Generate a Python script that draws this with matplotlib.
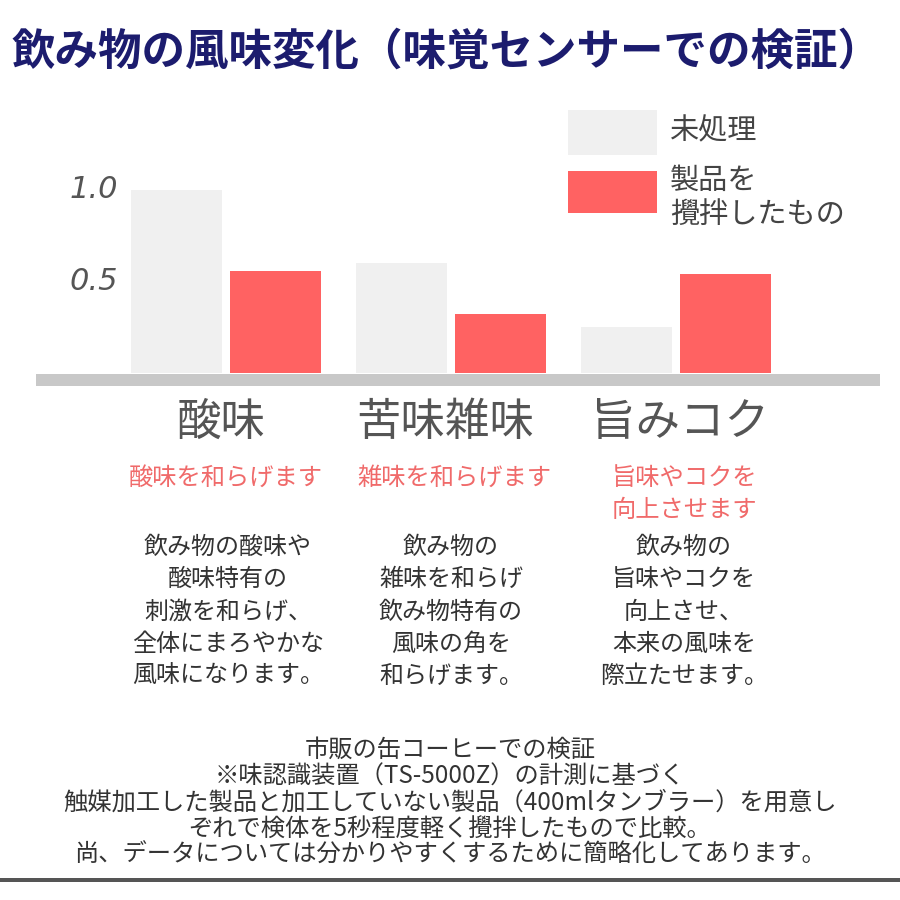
import matplotlib
matplotlib.use("Agg")
import matplotlib.pyplot as plt
from matplotlib.patches import Rectangle
import numpy as np

plt.rcParams['font.family'] = ['Noto Sans CJK JP', 'DejaVu Sans']

# データ
categories = ['酸味', '苦味雑味', '旨みコク']
untreated = [1.0, 0.60, 0.25]
stirred = [0.56, 0.32, 0.54]
series_names = ['未処理', '製品を\n攪拌したもの']
ytick_vals = [1.0, 0.5]
ytick_labels = ['1.0', '0.5']
effects = ['酸味を和らげます', '雑味を和らげます', '旨味やコクを\n向上させます']
details = [
    ['飲み物の酸味や', '酸味特有の', '刺激を和らげ、', '全体にまろやかな', '風味になります。'],
    ['飲み物の', '雑味を和らげ', '飲み物特有の', '風味の角を', '和らげます。'],
    ['飲み物の', '旨味やコクを', '向上させ、', '本来の風味を', '際立たせます。'],
]
notes = [
    '市販の缶コーヒーでの検証',
    '※味認識装置（TS-5000Z）の計測に基づく',
    '触媒加工した製品と加工していない製品（400mlタンブラー）を用意し',
    'ぞれで検体を5秒程度軽く攪拌したもので比較。',
    '尚、データについては分かりやすくするために簡略化してあります。',
]

c_gray = '#f0f0f0'
c_red = '#ff6262'
c_text = '#444444'
c_navy = '#1c1c6e'

W = H = 900
fig = plt.figure(figsize=(9, 9), dpi=100)
fig.patch.set_facecolor('white')


def fy(py):
    # 上からのピクセル位置 -> figure座標
    return 1 - py / H


def fx(px):
    return px / W


# グラフ本体 (値0 = y373px, 1.0 = 183px分)
scale = 183
top_val = 1.2
ax = fig.add_axes([fx(36), fy(373), fx(880 - 36), top_val * scale / H])
x = np.arange(len(categories))
w = 0.404
off = 0.22
ax.bar(x - off, untreated, w, color=c_gray)
ax.bar(x + off, stirred, w, color=c_red)
ax.set_xlim((36 - 226) / 225, (880 - 226) / 225)
ax.set_ylim(0, top_val)
ax.axis('off')

for v, lab in zip(ytick_vals, ytick_labels):
    ax.text((118 - 226) / 225, v, lab, ha='right', va='center',
            fontsize=22, style='italic', color='#555555', family='DejaVu Sans')

# 下のグレーの帯
fig.add_artist(Rectangle((fx(36), fy(386)), fx(880 - 36), 12 / H,
                         transform=fig.transFigure, color='#c8c8c8', lw=0))

# タイトル
fig.text(fx(12), fy(52), '飲み物の風味変化（味覚センサーでの検証）',
         ha='left', va='center', fontsize=31.3, fontweight='bold', color=c_navy)

# 凡例
fig.add_artist(Rectangle((fx(568), fy(155)), fx(89), 45 / H,
                         transform=fig.transFigure, color=c_gray, lw=0))
fig.add_artist(Rectangle((fx(568), fy(213)), fx(89), 42 / H,
                         transform=fig.transFigure, color=c_red, lw=0))
fig.text(fx(670), fy(131), series_names[0], ha='left', va='center',
         fontsize=21, color=c_text)
fig.text(fx(670), fy(198), series_names[1], ha='left', va='center',
         fontsize=21, color=c_text, linespacing=1.2)

# カテゴリ名・説明
cat_x = [221, 445, 680]
eff_x = [226, 454, 684]
det_x = [228, 451, 684]
for i in range(len(categories)):
    fig.text(fx(cat_x[i]), fy(422), categories[i], ha='center', va='center',
             fontsize=32, color='#555555')
    ey = 494 if '\n' in effects[i] else 478
    fig.text(fx(eff_x[i]), fy(ey), effects[i], ha='center', va='center',
             fontsize=17.5, color='#f06a6a', linespacing=1.3)
    for j, line in enumerate(details[i]):
        fig.text(fx(det_x[i]), fy(547 + j * 32.3), line, ha='center', va='center',
                 fontsize=17.3, color='#333333')

# 注記
for j, line in enumerate(notes):
    fig.text(fx(450), fy(750 + j * 26.3), line, ha='center', va='center',
             fontsize=17.5, color='#333333')

# 一番下の線
fig.add_artist(Rectangle((0, fy(882)), 1, 4 / H,
                         transform=fig.transFigure, color='#555555', lw=0))

fig.savefig('out.png', dpi=100)
